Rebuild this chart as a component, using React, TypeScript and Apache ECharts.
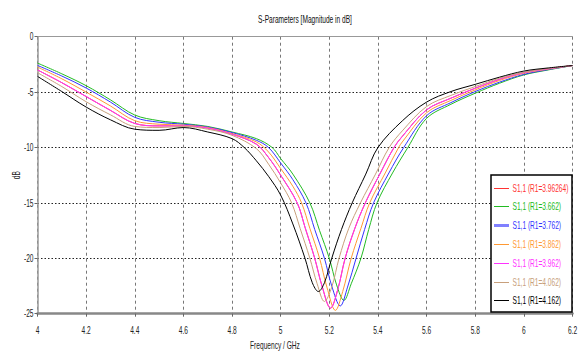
import React, { useEffect, useRef } from "react";
import * as echarts from "echarts";

const FONT_FAMILY = "'Liberation Sans', Arial, sans-serif";
const FONT = "11px " + FONT_FAMILY;
const NARROW = 0.6;

const titleText = "S-Parameters [Magnitude in dB]";
const xAxisName = "Frequency / GHz";
const yAxisName = "dB";

const xTickLabels = ["4", "4.2", "4.4", "4.6", "4.8", "5", "5.2", "5.4", "5.6", "5.8", "6", "6.2"];
const yTickLabels = ["0", "-5", "-10", "-15", "-20", "-25"];
const xTicks = { min: 4, max: 6.2, interval: 0.2 };
const yTicks = { min: -25, max: 0, interval: 5 };

const seriesNames = [
  "S1,1 (R1=3.96264)",
  "S1,1 (R1=3.662)",
  "S1,1 (R1=3.762)",
  "S1,1 (R1=3.862)",
  "S1,1 (R1=3.962)",
  "S1,1 (R1=4.062)",
  "S1,1 (R1=4.162)",
];
const seriesColors = ["#ff3333", "#22bb22", "#3333ff", "#ff9933", "#ff33ff", "#c8a07c", "#000000"];

const r3662 = [[4.0,-2.38],[4.1,-3.35],[4.2,-4.42],[4.3,-5.7],[4.4,-7.07],[4.5,-7.58],[4.6,-7.83],[4.7,-8.1],[4.8,-8.6],[4.9,-9.2],[4.965,-10.0],[5.0,-11.0],[5.05,-12.4],[5.12,-15.0],[5.16,-17.5],[5.2,-20.0],[5.23,-22.4],[5.26,-23.8],[5.29,-22.3],[5.33,-20.0],[5.362,-17.4],[5.396,-15.0],[5.46,-12.3],[5.523,-10.0],[5.6,-7.37],[5.7,-6.1],[5.8,-5.1],[5.9,-4.2],[6.0,-3.45],[6.1,-3.0],[6.2,-2.6]];
const r3762 = [[4.0,-2.59],[4.1,-3.55],[4.2,-4.63],[4.3,-5.9],[4.4,-7.28],[4.5,-7.72],[4.6,-7.9],[4.7,-8.15],[4.8,-8.65],[4.9,-9.35],[4.95,-10.0],[5.0,-11.4],[5.05,-12.9],[5.104,-15.0],[5.14,-17.4],[5.18,-20.0],[5.21,-22.5],[5.245,-24.3],[5.275,-22.6],[5.31,-20.0],[5.345,-17.4],[5.382,-15.0],[5.445,-12.3],[5.506,-10.0],[5.6,-7.13],[5.7,-5.95],[5.8,-4.95],[5.9,-4.1],[6.0,-3.4],[6.1,-2.97],[6.2,-2.6]];
const r3862 = [[4.0,-2.74],[4.1,-3.8],[4.2,-5.0],[4.3,-6.25],[4.4,-7.58],[4.5,-7.9],[4.6,-7.98],[4.7,-8.2],[4.8,-8.75],[4.9,-9.5],[4.95,-10.4],[5.0,-11.9],[5.05,-13.5],[5.086,-15.0],[5.12,-17.3],[5.16,-20.0],[5.19,-22.6],[5.225,-24.7],[5.255,-23.0],[5.29,-20.0],[5.33,-17.3],[5.366,-15.0],[5.43,-12.3],[5.485,-10.0],[5.5,-9.5],[5.6,-6.86],[5.7,-5.75],[5.8,-4.8],[5.9,-3.95],[6.0,-3.3],[6.1,-2.93],[6.2,-2.6]];
const r3962 = [[4.0,-3.0],[4.1,-4.15],[4.2,-5.4],[4.3,-6.65],[4.4,-7.83],[4.5,-8.05],[4.6,-8.05],[4.7,-8.25],[4.8,-8.8],[4.9,-9.7],[4.95,-10.9],[5.0,-12.5],[5.068,-15.0],[5.1,-17.2],[5.14,-20.0],[5.17,-22.5],[5.205,-24.5],[5.235,-22.8],[5.265,-20.0],[5.305,-17.3],[5.348,-15.0],[5.41,-12.3],[5.466,-10.0],[5.5,-9.0],[5.6,-6.6],[5.7,-5.55],[5.8,-4.65],[5.9,-3.85],[6.0,-3.25],[6.1,-2.9],[6.2,-2.6]];
const r396264 = [[4.0,-3.0],[4.1,-4.15],[4.2,-5.4],[4.3,-6.65],[4.4,-7.83],[4.5,-8.05],[4.6,-8.05],[4.7,-8.25],[4.8,-8.8],[4.9,-9.7],[4.95,-10.9],[5.0,-12.5],[5.068,-15.0],[5.1,-17.2],[5.14,-20.0],[5.17,-22.5],[5.205,-24.5],[5.235,-22.8],[5.265,-20.0],[5.305,-17.3],[5.348,-15.0],[5.41,-12.3],[5.466,-10.0],[5.5,-9.0],[5.6,-6.6],[5.7,-5.55],[5.8,-4.65],[5.9,-3.85],[6.0,-3.25],[6.1,-2.9],[6.2,-2.6]];
const r4062 = [[4.0,-3.25],[4.1,-4.5],[4.2,-5.87],[4.3,-7.05],[4.4,-8.1],[4.5,-8.2],[4.6,-8.1],[4.7,-8.35],[4.8,-8.9],[4.9,-10.1],[4.95,-11.5],[5.0,-13.2],[5.045,-15.0],[5.08,-17.3],[5.12,-20.0],[5.15,-22.3],[5.18,-23.9],[5.21,-22.6],[5.24,-20.0],[5.28,-17.3],[5.328,-15.0],[5.39,-12.4],[5.446,-10.0],[5.5,-8.5],[5.6,-6.3],[5.7,-5.3],[5.8,-4.5],[5.9,-3.75],[6.0,-3.2],[6.1,-2.87],[6.2,-2.6]];
const r4162 = [[4.0,-3.58],[4.1,-4.95],[4.2,-6.35],[4.3,-7.5],[4.4,-8.35],[4.5,-8.45],[4.6,-8.2],[4.7,-8.6],[4.8,-9.2],[4.85,-10.0],[4.9,-11.2],[4.95,-12.6],[5.0,-14.3],[5.05,-16.9],[5.1,-20.0],[5.13,-22.2],[5.155,-23.0],[5.18,-22.2],[5.21,-20.0],[5.25,-17.4],[5.294,-15.0],[5.35,-12.4],[5.4,-10.0],[5.5,-7.6],[5.6,-5.9],[5.7,-4.95],[5.8,-4.3],[5.9,-3.65],[6.0,-3.1],[6.1,-2.82],[6.2,-2.6]];

const seriesData = [r396264, r3662, r3762, r3862, r3962, r4062, r4162];

function narrowText(text: string, x: number, y: number, color: string, align: string, vAlign: string, extra: any = {}) {
  return {
    type: "text",
    x,
    y,
    scaleX: NARROW,
    silent: true,
    z: 100,
    ...extra,
    style: { text, font: FONT, fill: color, textAlign: align, textVerticalAlign: vAlign },
  };
}

export default function App() {
  const ref = useRef<HTMLDivElement>(null);
  useEffect(() => {
    if (!ref.current) return;
    const chart = echarts.init(ref.current, null, { renderer: "svg" });
    const left = 37.5, right = 6.5, top = 36.7, bottom = 37.3;
    chart.setOption({
      animation: false,
      backgroundColor: "#ffffff",
      grid: { left, right, top, bottom, outerBoundsMode: "none", containLabel: false },
      xAxis: [
        {
          type: "value",
          min: xTicks.min,
          max: xTicks.max,
          interval: xTicks.interval,
          axisLine: { show: true, onZero: false, lineStyle: { color: "#888", width: 2.5 } },
          axisTick: { show: true, length: 3, lineStyle: { color: "#666" } },
          axisLabel: { show: false },
          splitLine: { show: true, lineStyle: { color: "#777", type: [3, 3], width: 1 } },
        },
        {
          type: "value",
          position: "top",
          min: xTicks.min,
          max: xTicks.max,
          axisLine: { show: true, lineStyle: { color: "#999", width: 1 } },
          axisTick: { show: false },
          axisLabel: { show: false },
          splitLine: { show: false },
        },
      ],
      yAxis: {
        type: "value",
        min: yTicks.min,
        max: yTicks.max,
        interval: yTicks.interval,
        axisLine: { show: true, onZero: false, lineStyle: { color: "#999", width: 1.5 } },
        axisTick: { show: true, length: 3, lineStyle: { color: "#666" } },
        axisLabel: { show: false },
        splitLine: { show: true, lineStyle: { color: "#222", type: [1.5, 2], width: 1 } },
      },
      series: seriesNames.map((n, i) => ({
        name: n,
        type: "line",
        xAxisIndex: 0,
        data: seriesData[i],
        smooth: 0.35,
        symbol: "none",
        lineStyle: { color: seriesColors[i], width: 1 },
        itemStyle: { color: seriesColors[i] },
        z: 2 + i,
      })),
    });

    const xp = (v: number) => chart.convertToPixel({ xAxisIndex: 0 }, v) as number;
    const yp = (v: number) => chart.convertToPixel({ yAxisIndex: 0 }, v) as number;
    const plotCenterX = (xp(xTicks.min) + xp(xTicks.max)) / 2;
    const plotCenterY = (yp(yTicks.min) + yp(yTicks.max)) / 2;
    const bottomY = yp(yTicks.min);

    const graphics: any[] = [];
    graphics.push(narrowText(titleText, plotCenterX, 19, "#111", "center", "middle"));
    xTickLabels.forEach((t) => graphics.push(narrowText(t, xp(parseFloat(t)), bottomY + 17, "#222", "center", "middle")));
    yTickLabels.forEach((t) => graphics.push(narrowText(t, left - 4, yp(parseFloat(t)), "#222", "right", "middle")));
    graphics.push(narrowText(xAxisName, plotCenterX - 30, bottomY + 26.5, "#222", "center", "top"));
    graphics.push(narrowText(yAxisName, 16, plotCenterY, "#222", "center", "middle", { rotation: Math.PI / 2 }));

    // legend box
    const lgX = 491, lgY = 175, lgW = 81, lgH = 137, rowH = 18.8, firstRow = 12.5;
    graphics.push({
      type: "rect",
      z: 99,
      silent: true,
      shape: { x: lgX, y: lgY, width: lgW, height: lgH },
      style: { fill: "#ffffff", stroke: "#000000", lineWidth: 1.5 },
    });
    seriesNames.forEach((n, i) => {
      const cy = Math.round(lgY + firstRow + i * rowH) + 0.5;
      graphics.push({
        type: "line",
        z: 100,
        silent: true,
        shape: { x1: lgX + 3, y1: cy, x2: lgX + 18, y2: cy },
        style: { stroke: i === 2 ? "#8080ff" : seriesColors[i], lineWidth: i === 2 ? 3 : 1 },
      });
      graphics.push(narrowText(n, lgX + 21.5, cy, seriesColors[i], "left", "middle"));
    });

    chart.setOption({ graphic: graphics });
    return () => chart.dispose();
  }, []);
  return <div ref={ref} style={{ position: "fixed", left: 0, top: 0, width: 579, height: 351 }} />;
}
